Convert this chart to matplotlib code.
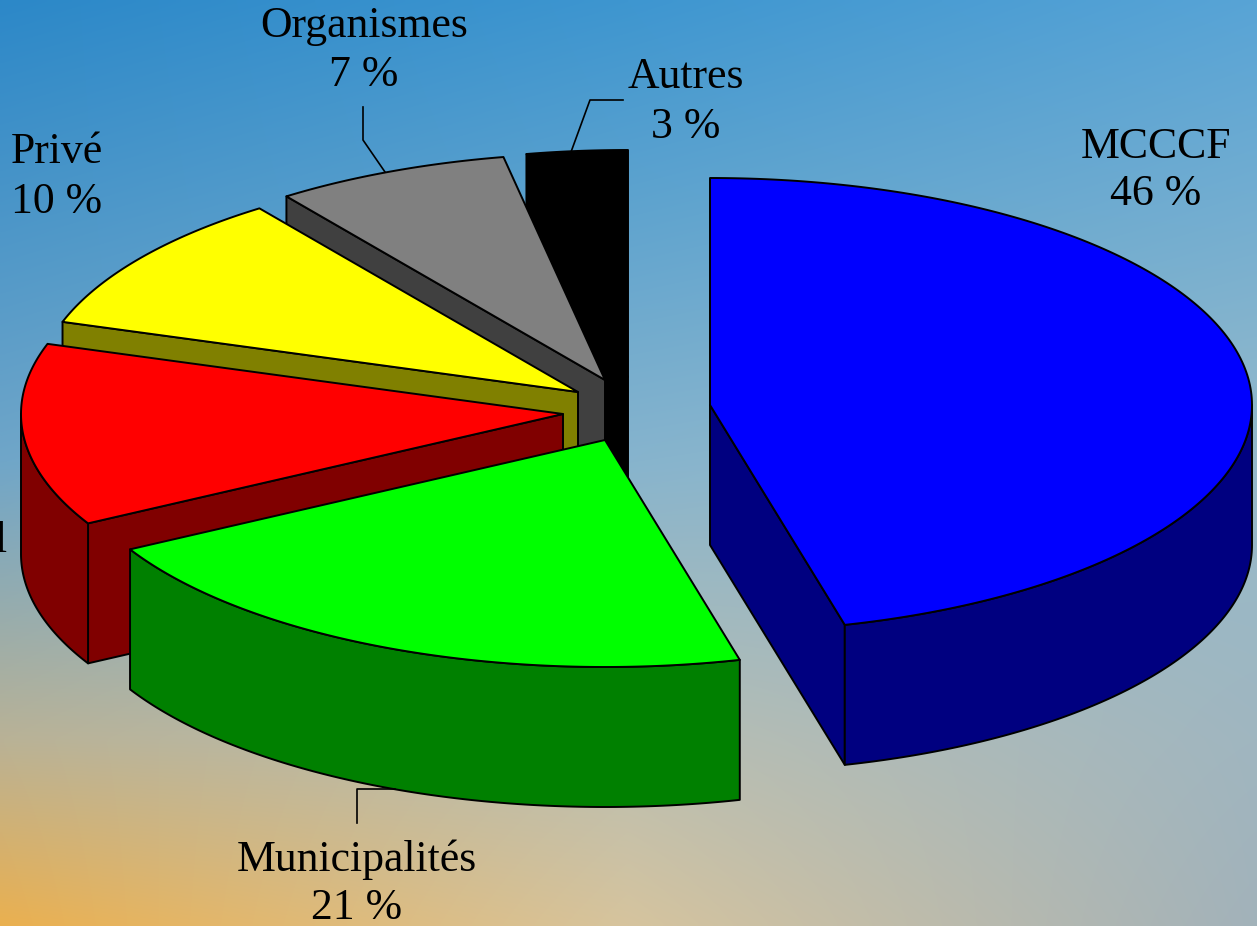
import numpy as np
import matplotlib
matplotlib.use('Agg')
import matplotlib.pyplot as plt
from matplotlib.patches import Polygon

# ---------------- data ----------------
labels = ['MCCCF', 'Municipalités', 'Fédéral', 'Privé', 'Organismes', 'Autres']
values = [46, 21, 13, 10, 7, 3]
top_colors = ['#0000FF', '#00FF00', '#FF0000', '#FFFF00', '#808080', '#000000']
side_colors = ['#000080', '#008000', '#800000', '#808000', '#404040', '#000000']

# ---------------- layout ----------------
W, H = 1257, 926
RX, RY, DEPTH = 542, 227, 140
START_ANGLE = 90
# apex of each exploded slice (pixel coords)
centers = [(710, 405), (605, 440), (563, 414), (578, 392), (605, 380), (628, 377)]
draw_order = [5, 4, 3, 2, 1, 0]
# label placement: (x, baseline name, baseline pct)
label_pos = {
    'MCCCF': (1156, 158, 205),
    'Municipalités': (357, 871, 919),
    'Privé': (57, 163, 213),
    'Organismes': (364, 37, 86),
    'Autres': (686, 88, 138),
}

fig = plt.figure(figsize=(W / 100, H / 100), dpi=100)
ax = fig.add_axes([0, 0, 1, 1])
ax.set_xlim(0, W)
ax.set_ylim(H, 0)
ax.axis('off')

# ---------------- background gradient ----------------
gx = np.array([0.0, 0.5, 1.0])
gy = np.array([0.0, 0.5, 0.8, 1.0])
grid = np.array([
    [(44, 136, 200), (62, 150, 208), (88, 164, 214)],
    [(112, 166, 200), (135, 180, 205), (150, 186, 202)],
    [(185, 178, 150), (185, 190, 178), (160, 182, 192)],
    [(234, 176, 80), (214, 196, 158), (162, 178, 186)],
], dtype=float) / 255.0
xs = np.linspace(0, 1, 320)
ys = np.linspace(0, 1, 240)
rows = np.zeros((len(gy), len(xs), 3))
for r in range(len(gy)):
    for c in range(3):
        rows[r, :, c] = np.interp(xs, gx, grid[r, :, c])
img = np.zeros((len(ys), len(xs), 3))
for j in range(len(xs)):
    for c in range(3):
        img[:, j, c] = np.interp(ys, gy, rows[:, j, c])
ax.imshow(img, extent=[0, W, H, 0], aspect='auto', interpolation='bilinear', zorder=0)


# ---------------- 3D pie ----------------
def pt(c, a, dz=0.0):
    r = np.deg2rad(a)
    return (c[0] + RX * np.cos(r), c[1] - RY * np.sin(r) + dz)


total = float(sum(values))
cum = np.concatenate([[0], np.cumsum(values)])
his = START_ANGLE - 360 * cum[:-1] / total
los = START_ANGLE - 360 * cum[1:] / total

EC = 'black'
LW = 1.4
z = 1
for i in draw_order:
    c = centers[i]
    lo, hi = los[i], his[i]
    faces = []
    # radial faces
    if np.cos(np.deg2rad(hi)) < -1e-6:
        faces.append([c, pt(c, hi), pt(c, hi, DEPTH), (c[0], c[1] + DEPTH)])
    if np.cos(np.deg2rad(lo)) > 1e-6:
        faces.append([c, pt(c, lo), pt(c, lo, DEPTH), (c[0], c[1] + DEPTH)])
    # outer side (front half)
    for k in (-1, 0, 1):
        a0 = max(lo, 180 + 360 * k)
        a1 = min(hi, 360 + 360 * k)
        if a1 > a0:
            aa = np.linspace(a0, a1, 120)
            topa = [pt(c, a) for a in aa]
            bota = [pt(c, a, DEPTH) for a in aa[::-1]]
            faces.append(topa + bota)
    for f in faces:
        ax.add_patch(Polygon(f, closed=True, facecolor=side_colors[i], edgecolor=EC,
                             linewidth=LW, joinstyle='round', zorder=z))
        z += 1
    aa = np.linspace(lo, hi, 200)
    top = [c] + [pt(c, a) for a in aa]
    ax.add_patch(Polygon(top, closed=True, facecolor=top_colors[i], edgecolor=EC,
                         linewidth=LW, joinstyle='round', zorder=z))
    z += 1

# ---------------- labels ----------------
font = dict(family='Liberation Serif', fontsize=31.5, color='black', zorder=100)
for lab, v in zip(labels, values):
    if lab in label_pos:
        x, b1, b2 = label_pos[lab]
        ax.text(x, b1, lab, ha='center', va='baseline', **font)
        ax.text(x, b2, f'{v} %', ha='center', va='baseline', **font)
# label of the red slice, mostly outside the canvas on the left (as in the reference)
red_lab = labels[2] + '\n' + f'{values[2]} %'
ax.text(8, 598, red_lab, ha='right', va='baseline', multialignment='center',
        linespacing=1.2, **font)

# leader lines
lk = dict(color='black', linewidth=1.2, zorder=99)
ax.plot([363, 363, 385], [107, 140, 172], **lk)
ax.plot([623, 590, 571], [100, 100, 152], **lk)
ax.plot([357, 357, 395], [823, 789, 789], **lk)

fig.savefig('out.png', dpi=100)
